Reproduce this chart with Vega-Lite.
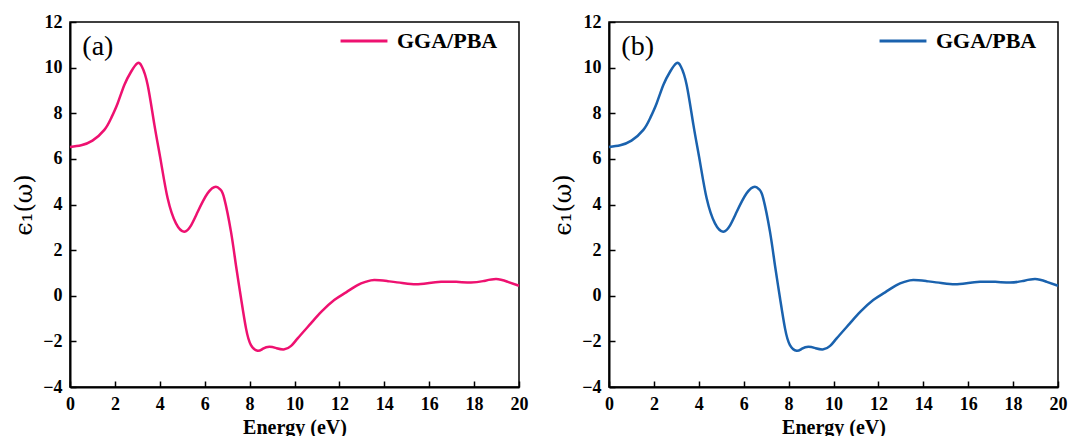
{
  "$schema": "https://vega.github.io/schema/vega-lite/v6.json",
  "padding": {"left": 11, "top": 12, "right": 0, "bottom": 0},
  "background": "white",
  "datasets": {
    "curve": [
      {"E": 0, "eps": 6.52}, {"E": 0.5, "eps": 6.6}, {"E": 1.0, "eps": 6.8}, {"E": 1.53, "eps": 7.27},
      {"E": 1.83, "eps": 7.78}, {"E": 2.12, "eps": 8.43}, {"E": 2.42, "eps": 9.24}, {"E": 2.72, "eps": 9.82},
      {"E": 3.0, "eps": 10.19}, {"E": 3.2, "eps": 10.05}, {"E": 3.46, "eps": 9.24}, {"E": 3.76, "eps": 7.49},
      {"E": 4.05, "eps": 5.88}, {"E": 4.35, "eps": 4.27}, {"E": 4.72, "eps": 3.17}, {"E": 5.09, "eps": 2.81},
      {"E": 5.4, "eps": 3.1}, {"E": 5.69, "eps": 3.68}, {"E": 6.13, "eps": 4.49}, {"E": 6.5, "eps": 4.78},
      {"E": 6.7, "eps": 4.65}, {"E": 6.87, "eps": 4.27}, {"E": 7.17, "eps": 2.81}, {"E": 7.39, "eps": 1.35},
      {"E": 7.62, "eps": -0.12}, {"E": 7.84, "eps": -1.43}, {"E": 8.06, "eps": -2.16}, {"E": 8.36, "eps": -2.41},
      {"E": 8.6, "eps": -2.32}, {"E": 8.88, "eps": -2.24}, {"E": 9.2, "eps": -2.3}, {"E": 9.55, "eps": -2.35},
      {"E": 9.85, "eps": -2.2}, {"E": 10.14, "eps": -1.87}, {"E": 10.73, "eps": -1.21}, {"E": 11.2, "eps": -0.7},
      {"E": 11.77, "eps": -0.19}, {"E": 12.3, "eps": 0.15}, {"E": 12.81, "eps": 0.47}, {"E": 13.2, "eps": 0.62},
      {"E": 13.55, "eps": 0.69}, {"E": 14.15, "eps": 0.64}, {"E": 14.8, "eps": 0.56}, {"E": 15.41, "eps": 0.5},
      {"E": 16.0, "eps": 0.56}, {"E": 16.53, "eps": 0.61}, {"E": 17.2, "eps": 0.61}, {"E": 17.86, "eps": 0.58},
      {"E": 18.4, "eps": 0.64}, {"E": 18.98, "eps": 0.73}, {"E": 19.5, "eps": 0.61}, {"E": 20.0, "eps": 0.44}
    ]
  },
  "config": {
    "view": {"stroke": "black", "strokeWidth": 1.5},
    "axis": {
      "domainColor": "black", "domainWidth": 2, "tickColor": "black", "tickWidth": 1.5,
      "labelFont": "Liberation Serif", "labelFontWeight": "bold", "labelFontSize": 18,
      "labelColor": "black", "titleColor": "black", "grid": false, "labelOverlap": false, "labelFlush": false
    }
  },
  "spacing": 21,
  "hconcat": [
    {
      "width": 449, "height": 365,
      "layer": [
        {
          "data": {"name": "curve"},
          "transform": [{"calculate": "'GGA/PBA'", "as": "series"}],
          "mark": {"type": "line", "strokeWidth": 2.5, "interpolate": "natural"},
          "encoding": {
            "x": {"field": "E", "type": "quantitative", "scale": {"domain": [0, 20], "nice": false},
              "axis": {"title": "Energy (eV)", "titleFont": "Liberation Serif", "titleFontWeight": "bold", "titleFontSize": 20, "titlePadding": 4,
                "labelFont": "Liberation Serif", "labelFontWeight": "bold", "labelFontSize": 18,
                "values": [0,1,2,3,4,5,6,7,8,9,10,11,12,13,14,15,16,17,18,19,20],
                "labelExpr": "datum.value % 2 === 0 ? datum.label : ''",
                "tickSize": {"condition": {"test": "datum.value % 2 === 0", "value": -6}, "value": -3},
                "labelPadding": 14}},
            "y": {"field": "eps", "type": "quantitative", "scale": {"domain": [-4, 12], "nice": false},
              "axis": {"title": "ϵ₁(ω)", "titleFont": "DejaVu Serif", "titleFontWeight": "normal", "titleFontSize": 24, "titlePadding": 6,
                "labelFont": "Liberation Serif", "labelFontWeight": "bold", "labelFontSize": 18,
                "values": [-4,-3,-2,-1,0,1,2,3,4,5,6,7,8,9,10,11,12],
                "labelExpr": "datum.value % 2 === 0 ? datum.label : ''",
                "tickSize": {"condition": {"test": "datum.value % 2 === 0", "value": -6}, "value": -3},
                "labelPadding": 14}},
            "color": {"field": "series", "type": "nominal", "scale": {"domain": ["GGA/PBA"], "range": ["#ee1170"]},
              "legend": {"title": null, "orient": "none", "legendX": 269, "legendY": -6, "padding": 0,
                "symbolType": "stroke", "symbolSize": 2200, "symbolStrokeWidth": 3, "labelOffset": 8,
                "labelFont": "Liberation Serif", "labelFontWeight": "bold", "labelFontSize": 22, "labelColor": "black"}}
          }
        },
        {
          "data": {"values": [{"E": 0.55, "eps": 10.9, "label": "(a)"}]},
          "mark": {"type": "text", "align": "left", "baseline": "middle", "font": "Liberation Serif", "fontSize": 28, "color": "black"},
          "encoding": {"x": {"field": "E", "type": "quantitative"}, "y": {"field": "eps", "type": "quantitative"}, "text": {"field": "label"}}
        }
      ]
    },
    {
      "width": 449, "height": 365,
      "layer": [
        {
          "data": {"name": "curve"},
          "transform": [{"calculate": "'GGA/PBA'", "as": "series"}],
          "mark": {"type": "line", "strokeWidth": 2.5, "interpolate": "natural"},
          "encoding": {
            "x": {"field": "E", "type": "quantitative", "scale": {"domain": [0, 20], "nice": false},
              "axis": {"title": "Energy (eV)", "titleFont": "Liberation Serif", "titleFontWeight": "bold", "titleFontSize": 20, "titlePadding": 4,
                "labelFont": "Liberation Serif", "labelFontWeight": "bold", "labelFontSize": 18,
                "values": [0,1,2,3,4,5,6,7,8,9,10,11,12,13,14,15,16,17,18,19,20],
                "labelExpr": "datum.value % 2 === 0 ? datum.label : ''",
                "tickSize": {"condition": {"test": "datum.value % 2 === 0", "value": -6}, "value": -3},
                "labelPadding": 14}},
            "y": {"field": "eps", "type": "quantitative", "scale": {"domain": [-4, 12], "nice": false},
              "axis": {"title": "ϵ₁(ω)", "titleFont": "DejaVu Serif", "titleFontWeight": "normal", "titleFontSize": 24, "titlePadding": 6,
                "labelFont": "Liberation Serif", "labelFontWeight": "bold", "labelFontSize": 18,
                "values": [-4,-3,-2,-1,0,1,2,3,4,5,6,7,8,9,10,11,12],
                "labelExpr": "datum.value % 2 === 0 ? datum.label : ''",
                "tickSize": {"condition": {"test": "datum.value % 2 === 0", "value": -6}, "value": -3},
                "labelPadding": 14}},
            "color": {"field": "series", "type": "nominal", "scale": {"domain": ["GGA/PBA"], "range": ["#1a62ae"]},
              "legend": {"title": null, "orient": "none", "legendX": 269, "legendY": -6, "padding": 0,
                "symbolType": "stroke", "symbolSize": 2200, "symbolStrokeWidth": 3, "labelOffset": 8,
                "labelFont": "Liberation Serif", "labelFontWeight": "bold", "labelFontSize": 22, "labelColor": "black"}}
          }
        },
        {
          "data": {"values": [{"E": 0.55, "eps": 10.9, "label": "(b)"}]},
          "mark": {"type": "text", "align": "left", "baseline": "middle", "font": "Liberation Serif", "fontSize": 28, "color": "black"},
          "encoding": {"x": {"field": "E", "type": "quantitative"}, "y": {"field": "eps", "type": "quantitative"}, "text": {"field": "label"}}
        }
      ]
    }
  ],
  "resolve": {"scale": {"color": "independent"}}
}
